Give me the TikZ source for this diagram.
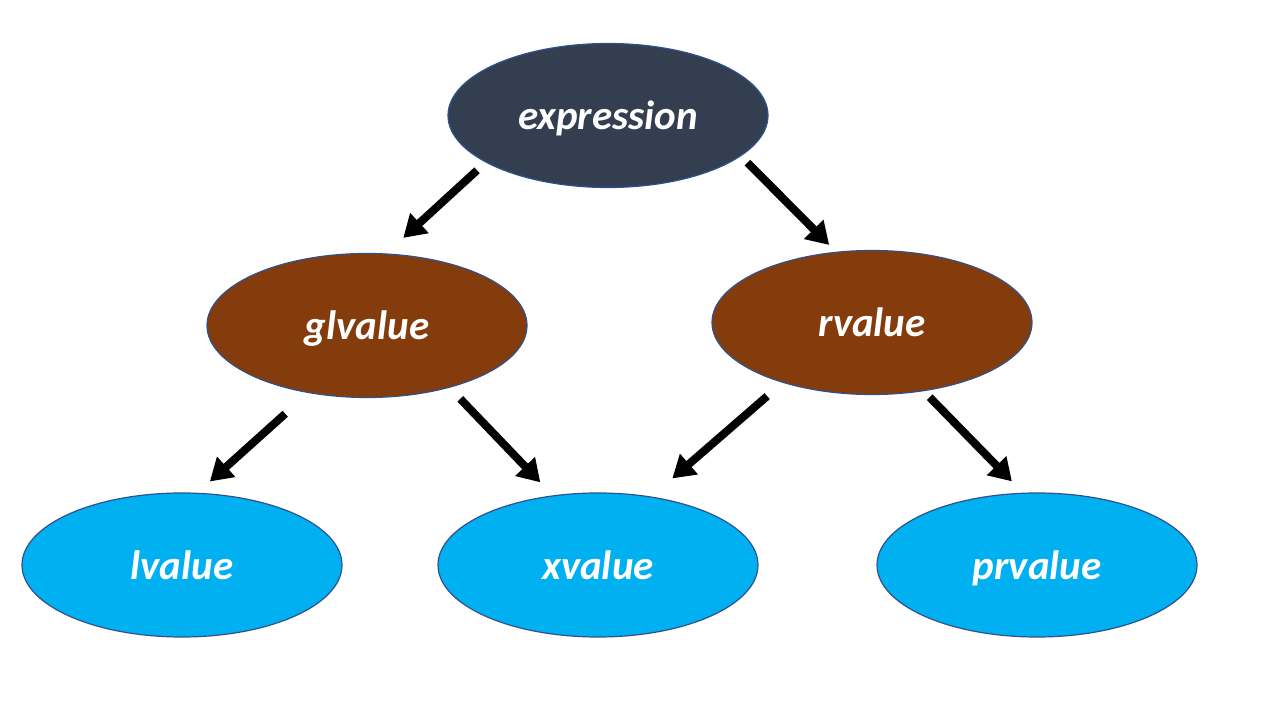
\documentclass[tikz,border=0pt]{standalone}
\usepackage{fontspec}
\setmainfont{Carlito}
\usetikzlibrary{shapes.geometric,arrows.meta}
\definecolor{slate}{HTML}{333F50}
\definecolor{rust}{HTML}{843C0C}
\definecolor{sky}{HTML}{00B0F0}
\definecolor{rim}{HTML}{2F528F}
\tikzset{
  category/.style={
    ellipse,
    draw=rim,
    line width=0.6pt,
    inner sep=0pt,
    minimum width=160pt,
    minimum height=72pt,
    text height=18.5pt,
    text depth=4pt,
    text=white,
    font=\fontsize{20.5}{24}\selectfont\bfseries\itshape
  },
  arrow/.style={
    -{Triangle[width=13pt,length=11pt]},
    line width=4pt
  }
}

\begin{document}
\begin{tikzpicture}[x=0.5pt,y=-0.5pt]
\useasboundingbox[fill=white] (0,0) rectangle (1280,715);
% top
\node[category,fill=slate] (expr) at ( 608,115.5) {expression};
% middle row
\node[category,fill=rust ] (glv)  at ( 367,325.5) {glvalue};
\node[category,fill=rust ] (rv)   at ( 872,322.5) {rvalue};
% bottom row
\node[category,fill=sky  ] (lv)   at ( 182,565)   {lvalue};
\node[category,fill=sky  ] (xv)   at ( 598,565)   {xvalue};
\node[category,fill=sky  ] (prv)  at (1037,565)   {prvalue};
\draw[arrow,shorten <=5.8pt, shorten >=11.5pt] (expr.201) -- (glv.75);
\draw[arrow,shorten <=4.6pt, shorten >=4.8pt]  (expr.343) -- (rv.117);
\draw[arrow,shorten <=15.5pt,shorten >=8.4pt]  (glv.229)  -- (lv.78);
\draw[arrow,shorten <=7.7pt, shorten >=9pt]    (glv.323)  -- (xv.123);
\draw[arrow,shorten <=10.2pt,shorten >=13.8pt] (rv.214)   -- (xv.52);
\draw[arrow,shorten <=4.2pt, shorten >=7.9pt]  (rv.307)   -- (prv.101);
\end{tikzpicture}
\end{document}
